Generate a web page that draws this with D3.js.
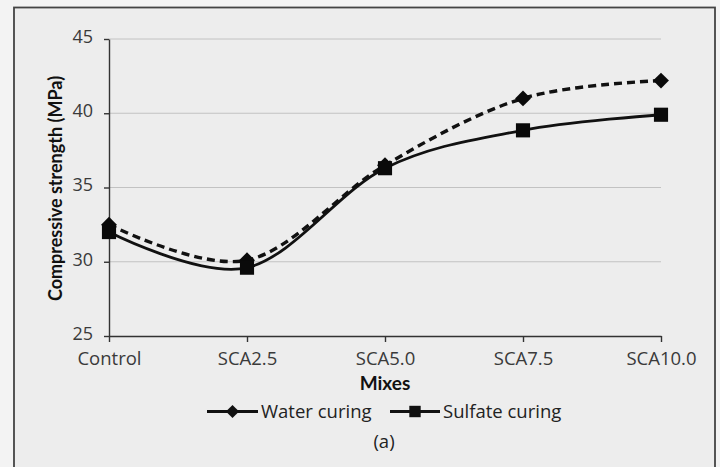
<!DOCTYPE html>
<html><head><meta charset="utf-8">
<script src="https://cdn.jsdelivr.net/npm/d3@7"></script>
<style>
html,body{margin:0;padding:0;background:#f2f2f2;}
svg{display:block;font-family:"Open Sans", Lato, sans-serif;}
</style></head>
<body>
<svg id="chart" width="720" height="467"></svg>
<script>
const categories = ["Control","SCA2.5","SCA5.0","SCA7.5","SCA10.0"];
const waterCuring = [32.5, 30.1, 36.5, 41.0, 42.2];
const sulfateCuring = [32.0, 29.6, 36.3, 38.85, 39.9];
const yTicks = [25, 30, 35, 40, 45];

(function(){
const svg = d3.select("#chart");
svg.append("rect").attr("x",0).attr("y",0).attr("width",720).attr("height",467).attr("fill","#f3f3f3");
svg.append("rect").attr("x",14).attr("y",7.5).attr("width",701).attr("height",470)
  .attr("fill","#ededed").attr("stroke","#444").attr("stroke-width",1.8);

const pLeft = 109, pRight = 661, pTop = 39, pBottom = 336;
const x = d3.scalePoint().domain(categories).range([pLeft, pRight]);
const y = d3.scaleLinear().domain([25,45]).range([pBottom, pTop]);

// gridlines
svg.append("g").selectAll("line").data(yTicks.filter(d=>d>25)).join("line")
  .attr("x1",pLeft).attr("x2",pRight).attr("y1",d=>y(d)).attr("y2",d=>y(d))
  .attr("stroke","#c2c2c2").attr("stroke-width",1);

const tickFont = "'Open Sans', sans-serif";
// y axis
const yAxis = svg.append("g").attr("transform",`translate(${pLeft},0)`)
  .call(d3.axisLeft(y).tickValues(yTicks).tickSize(5).tickPadding(11).tickSizeOuter(0));
yAxis.select(".domain").attr("stroke","#333").attr("stroke-width",1.4);
yAxis.selectAll(".tick line").attr("stroke","#333").attr("stroke-width",1.4);
yAxis.selectAll("text").attr("font-size",18).attr("dy","0.18em").attr("fill","#3a3a3a").attr("font-family",tickFont);

// x axis
const xAxis = svg.append("g").attr("transform",`translate(0,${pBottom})`)
  .call(d3.axisBottom(x).tickSize(6).tickPadding(9.5).tickSizeOuter(0));
xAxis.select(".domain").attr("stroke","#333").attr("stroke-width",1.4);
xAxis.selectAll(".tick line").attr("stroke","#333").attr("stroke-width",1.4);
xAxis.selectAll("text").attr("font-size",18.5).attr("fill","#3a3a3a").attr("font-family",tickFont);

const line = d3.line().x((d,i)=>x(categories[i])).y(d=>y(d)).curve(d3.curveCardinal.tension(0));

svg.append("path").datum(waterCuring).attr("d",line).attr("fill","none")
  .attr("stroke","#111").attr("stroke-width",3.4).attr("stroke-dasharray","8,5");
svg.append("path").datum(sulfateCuring).attr("d",line).attr("fill","none")
  .attr("stroke","#111").attr("stroke-width",2.8);

const diamond = d3.symbol().type(d3.symbolDiamond2).size(160);
const square = d3.symbol().type(d3.symbolSquare).size(200);

svg.append("g").selectAll("path").data(waterCuring).join("path")
  .attr("d",diamond()).attr("transform",(d,i)=>`translate(${x(categories[i])},${y(d)})`).attr("fill","#0a0a0a");
svg.append("g").selectAll("path").data(sulfateCuring).join("path")
  .attr("d",square()).attr("transform",(d,i)=>`translate(${x(categories[i])},${y(d)})`).attr("fill","#0a0a0a");

// axis titles
svg.append("text").attr("x",385).attr("y",390).attr("text-anchor","middle").attr("font-family","Lato, sans-serif")
  .attr("font-size",19).attr("font-weight","bold").attr("fill","#111").text("Mixes");
svg.append("text").attr("transform",`translate(62,${(pTop+pBottom)/2+1}) rotate(-90)`).attr("text-anchor","middle")
  .attr("font-family","Lato, sans-serif")
  .attr("font-size",18).attr("font-weight","bold").attr("fill","#111").text("Compressive strength (MPa)");

// legend
const lg = svg.append("g");
const legendItems = [
  {name:"Water curing", x0:207, x1:258, sym:d3.symbol().type(d3.symbolDiamond2).size(110)},
  {name:"Sulfate curing", x0:390, x1:440, sym:d3.symbol().type(d3.symbolSquare).size(130)}
];
const ly = 411.5;
legendItems.forEach(it=>{
  lg.append("line").attr("x1",it.x0).attr("x2",it.x1).attr("y1",ly).attr("y2",ly).attr("stroke","#111").attr("stroke-width",3);
  lg.append("path").attr("d",it.sym()).attr("transform",`translate(${(it.x0+it.x1)/2},${ly})`).attr("fill","#111");
  lg.append("text").attr("x",it.x1+3).attr("y",ly+6.5).attr("font-size",18.5).attr("fill","#222").text(it.name);
});
svg.append("text").attr("x",384).attr("y",448).attr("text-anchor","middle").attr("font-size",18.5).attr("fill","#222").text("(a)");
})();
</script>
</body></html>
